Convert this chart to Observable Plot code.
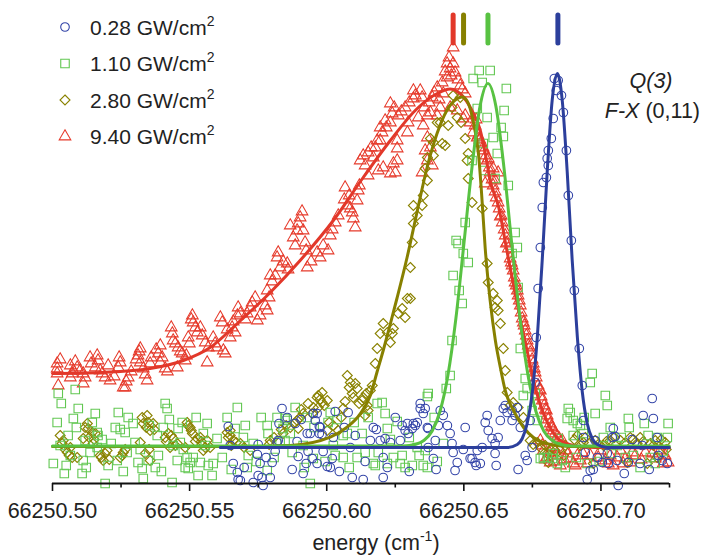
<!DOCTYPE html>
<html>
<head>
<meta charset="utf-8">
<script src="https://cdn.jsdelivr.net/npm/d3@7"></script>
<script src="https://cdn.jsdelivr.net/npm/@observablehq/plot@0.6"></script>
<style>
  html, body { margin: 0; padding: 0; background: #fff; }
  #chart { position: relative; width: 703px; height: 557px; }
</style>
</head>
<body>
<div id="chart"></div>
<script>
// energy = 66250 + first value (cm^-1); second value = signal (arb. units)
const E0 = 66250;
const legendLabels = ["0.28 GW/cm", "1.10 GW/cm", "2.80 GW/cm", "9.40 GW/cm"];
const seriesColors = ["#3445a8", "#62c752", "#8a8200", "#e63a2b"];
const lineColors = ["#2c3f9c", "#58c242", "#878000", "#e2382a"];
const majorTicks = [0.50, 0.55, 0.60, 0.65, 0.70];
const minorTicks = [0.525, 0.575, 0.625, 0.675, 0.725];
const xDomain = [0.50, 0.725];
const yDomain = [-36, 447];
const peakMarkers = [0.6461, 0.6499, 0.6588, 0.6843]; // red, olive, green, blue
const markerColors = ["#e2382a", "#878000", "#58c242", "#2c3f9c"];
const markerSpan = [404, 432];

const blueCircles = [
[0.5641,21],[0.5648,2],[0.5659,-16],[0.5674,-25],[0.5677,-32],[0.5750,3],[0.5747,-7],[0.5757,-16],[0.5764,-30],[0.5794,-30],
[0.5801,-15],[0.5812,-4],[0.5823,7],[0.5837,39],[0.5826,24],[0.5885,24],[0.5892,6],[0.5896,-9],[0.5925,-16],[0.5932,-4],
[0.5914,-26],[0.5951,34],[0.5965,34],[0.5958,27],[0.5973,21],[0.5973,14],[0.5983,13],[0.5987,-4],[0.6002,-19],[0.6020,-11],
[0.6013,-20],[0.6031,36],[0.6024,10],[0.6078,35],[0.6086,0],[0.6093,-30],[0.6133,-32],[0.6140,-14],[0.6159,7],[0.6170,20],
[0.6181,18],[0.5940,14],[0.6195,7],[0.6232,5],[0.6268,7],[0.6275,22],[0.6286,17],[0.6294,24],[0.6312,19],[0.6323,22],
[0.6330,25],[0.6297,14],[0.6341,44],[0.6341,39],[0.6359,39],[0.6367,20],[0.6370,0],[0.6389,-11],[0.6396,7],[0.6414,37],
[0.6425,32],[0.6440,22],[0.6450,14],[0.6457,4],[0.6461,-5],[0.6530,-11],[0.6541,-15],[0.6549,-3],[0.5947,-11],[0.5965,-16],
[0.6206,-10],[0.6352,34],[0.6407,22],[0.6370,19],[0.6316,24],[0.6213,9],[0.6476,-15],[0.6523,-11],[0.6560,-16],[0.6567,0],
[0.6585,32],[0.6578,25],[0.6589,17],[0.6603,9],[0.6614,4],[0.6614,-6],[0.6633,27],[0.6651,42],[0.6658,35],[0.6676,37],
[0.6687,32],[0.6695,40],[0.6676,27],[0.6706,20],[0.6724,-8],[0.6731,-13],[0.6644,39],[0.6742,27],[0.6625,10],[0.6545,-18],
[0.6749,0],[0.6760,65],[0.6764,110],[0.6771,159],[0.6779,200],[0.6786,240],[0.6790,265],[0.6801,270],[0.6808,282],[0.6804,289],
[0.6808,297],[0.6819,309],[0.6826,329],[0.6830,369],[0.6837,357],[0.6844,367],[0.6856,352],[0.6863,335],[0.6874,297],[0.6881,252],
[0.6892,207],[0.6903,157],[0.6921,99],[0.6932,62],[0.6936,27],[0.6936,10],[0.6943,-5],[0.6987,-10],[0.7005,-15],[0.7045,19],
[0.7041,10],[0.7052,11],[0.7023,-6],[0.7027,-16],[0.7059,-13],[0.7100,-15],[0.7143,-16],[0.7151,2],[0.7154,32],[0.7191,29],
[0.7187,49],[0.7205,10],[0.7209,-8],[0.7223,-13],[0.7242,-16],[0.6206,-30],[0.6468,-23],[0.6950,-32],[0.7063,-38],[0.5732,-35],
[0.5750,-28],[0.5768,-38],[0.5819,5],[0.5929,14],[0.5976,20],[0.5685,-33],[0.6979,7],[0.6961,-23],
[0.5699,-20],[0.5779,-10],[0.5856,30],[0.5874,-22],[0.5907,28],[0.6046,-24],[0.6064,20],[0.6104,12],[0.6221,-20],[0.6250,30],
[0.6301,-24],[0.6399,-22],[0.6498,-2],[0.6505,20],[0.6618,-18],[0.6698,-22],[0.6972,-22],[0.7085,-26],[0.7114,8],[0.7176,-22]
];

const greenSquares = [
[0.5021,54],[0.5083,58],[0.5032,44],[0.5094,39],[0.5156,34],[0.5076,29],[0.5017,25],[0.5028,2],[0.5065,-8],[0.5050,-18],
[0.5043,-26],[0.5112,-13],[0.5108,-26],[0.5137,-5],[0.5166,12],[0.5163,0],[0.5203,-18],[0.5236,-13],[0.5240,35],[0.5229,20],
[0.5247,18],[0.5276,30],[0.5294,24],[0.5312,-15],[0.5327,-21],[0.5331,-31],[0.5349,-13],[0.5382,12],[0.5404,20],[0.5386,-8],
[0.5411,44],[0.5418,39],[0.5440,2],[0.5455,-13],[0.5458,19],[0.5473,25],[0.5491,-10],[0.5502,-15],[0.5513,-10],[0.5495,-21],
[0.5531,-28],[0.5564,24],[0.5550,14],[0.5586,-16],[0.5582,-28],[0.5600,9],[0.5637,30],[0.5666,19],[0.5696,10],[0.5714,-8],
[0.5710,-20],[0.5732,4],[0.5783,22],[0.5786,14],[0.5819,30],[0.5848,29],[0.5841,19],[0.5867,14],[0.5874,-5],[0.5914,2],
[0.5929,30],[0.6005,25],[0.6024,2],[0.6060,12],[0.6060,-10],[0.6129,14],[0.6140,-5],[0.6170,-16],[0.6184,44],[0.5003,-16],
[0.5119,7],[0.5163,15],[0.5192,-36],[0.5265,15],[0.5272,-5],[0.5375,-20],[0.5466,5],[0.5484,-20],[0.5539,-15],[0.5568,-18],
[0.5436,-35],[0.5783,-23],[0.5940,-36],[0.6202,45],[0.6213,34],[0.6370,54],[0.6221,19],[0.6075,14],[0.6013,35],[0.5856,27],
[0.5848,7],[0.5951,-11],[0.6031,-8],[0.6111,-10],[0.6177,-18],[0.6243,-10],[0.6330,0],[0.6312,-18],[0.6367,-20],[0.6425,4],
[0.6436,59],[0.6450,72],[0.6457,107],[0.6367,51],[0.6232,8],[0.6275,-8],[0.6268,-16],[0.6352,-18],[0.6359,-3],[0.6221,-16],
[0.6483,157],[0.6494,144],[0.6461,172],[0.6498,194],[0.6479,204],[0.6472,207],[0.6516,185],[0.6505,225],[0.6534,369],[0.6556,377],
[0.6596,377],[0.6567,365],[0.6549,339],[0.6585,330],[0.6655,359],[0.6647,337],[0.6636,320],[0.6644,311],[0.6607,310],[0.6622,294],
[0.6571,304],[0.6530,287],[0.6574,277],[0.6614,269],[0.6662,262],[0.6687,215],[0.6695,200],[0.6676,194],[0.6698,160],[0.6706,99],
[0.6724,69],[0.6731,59],[0.6717,52],[0.6749,37],[0.6768,27],[0.6804,-10],[0.6779,-11],[0.6826,-6],[0.6841,-16],[0.6760,54],
[0.6968,74],[0.6961,65],[0.7016,52],[0.7023,42],[0.6979,34],[0.6881,39],[0.6888,35],[0.6877,29],[0.6899,27],[0.6914,24],
[0.6925,22],[0.6899,12],[0.6936,14],[0.7009,10],[0.7034,20],[0.7100,29],[0.7103,20],[0.7172,12],[0.7205,10],[0.7242,10],
[0.6844,9],[0.6823,-11],[0.6859,-13],[0.6790,-10],[0.6950,-16],[0.7059,2],[0.7089,-10],[0.7180,-10],[0.7198,-16],[0.7143,-20],
[0.5057,12],[0.5087,20],[0.5123,-20],[0.5145,25],[0.5181,8],[0.5214,4],[0.5258,-24],[0.5301,5],[0.5320,-2],[0.5353,22],
[0.5397,-24],[0.5426,28],[0.5477,-2],[0.5524,30],[0.5557,2],[0.5619,-10],[0.5652,-22],[0.5674,40],[0.5703,22],[0.5743,-14],
[0.5761,30],[0.5808,-10],[0.5830,6],[0.5885,40],[0.5918,-20],[0.5954,20],[0.5994,-14],[0.6038,28],[0.6082,-20],[0.6100,25],
[0.6151,30],[0.6188,-5],[0.6257,26],[0.6286,-20],[0.6301,10],[0.6337,-8],[0.6392,30],[0.6403,-14],[0.6870,-20],[0.6910,-10],
[0.6939,30],[0.6994,-14],[0.7038,-6],[0.7074,10],[0.7118,-8],[0.7158,24],[0.7227,-4],[0.7245,24]
];

const oliveDiamonds = [
[0.5028,12],[0.5065,0],[0.5054,-5],[0.5072,-10],[0.5127,24],[0.5130,19],[0.5145,15],[0.5112,9],[0.5174,-8],[0.5185,-13],
[0.5199,-3],[0.5247,-10],[0.5258,-5],[0.5320,5],[0.5345,32],[0.5349,25],[0.5367,24],[0.5356,17],[0.5338,-6],[0.5356,-13],
[0.5411,10],[0.5422,14],[0.5440,9],[0.5455,4],[0.5429,0],[0.5491,25],[0.5502,20],[0.5510,14],[0.5528,9],[0.5484,0],
[0.5550,-3],[0.5575,0],[0.5637,15],[0.5648,12],[0.5659,7],[0.5685,4],[0.5721,-3],[0.5794,7],[0.5841,14],[0.5867,20],
[0.5892,27],[0.5914,34],[0.5951,40],[0.5969,52],[0.5983,55],[0.6002,47],[0.6002,17],[0.6024,22],[0.6060,39],[0.6093,54],
[0.6104,64],[0.6133,50],[0.6151,37],[0.6159,57],[0.5039,7],[0.5090,-10],[0.5148,4],[0.5156,14],[0.5331,24],[0.5539,10],
[0.5564,7],[0.5648,17],[0.5903,30],[0.5965,50],[0.5983,45],[0.5969,40],[0.6075,72],[0.6086,65],[0.6111,59],[0.6129,47],
[0.6148,42],[0.6140,32],[0.6177,84],[0.6184,99],[0.6195,114],[0.6221,115],[0.6239,114],[0.6042,17],[0.5896,19],[0.6206,124],
[0.6243,119],[0.6232,105],[0.6261,134],[0.6275,139],[0.6286,130],[0.6294,149],[0.6305,180],[0.6305,149],[0.6312,205],[0.6316,224],
[0.6330,232],[0.6316,242],[0.6348,242],[0.6352,252],[0.6359,279],[0.6367,290],[0.6378,309],[0.6389,305],[0.6403,325],[0.6421,304],
[0.6432,302],[0.6443,322],[0.6457,340],[0.6476,330],[0.6490,325],[0.6505,309],[0.6512,287],[0.6516,269],[0.6414,325],[0.6461,352],
[0.6487,350],[0.6516,294],[0.6367,267],[0.6389,292],[0.6530,245],[0.6567,239],[0.6585,184],[0.6589,165],[0.6607,154],[0.6622,147],
[0.6614,140],[0.6625,137],[0.6633,124],[0.6644,99],[0.6651,77],[0.6658,55],[0.6680,45],[0.6698,40],[0.6717,30],[0.6669,42],
[0.6742,7],[0.6768,5],[0.6804,-6],[0.6808,-15],[0.6914,12],[0.6936,5],[0.7009,2],[0.7034,7],[0.7071,7],[0.7107,10],
[0.7132,4],[0.7180,4],[0.7205,-10],[0.7234,5],[0.6972,-16],[0.7096,-15],[0.7169,-16],[0.6797,2],[0.6833,-3],[0.6863,-8],
[0.6943,10],[0.6979,7],[0.7143,10],[0.7198,7],
[0.5035,4],[0.5046,-2],[0.5061,-8],[0.5119,20],[0.5134,10],[0.5152,8],[0.5178,-10],[0.5192,-6],[0.5207,-12],[0.5254,-8],
[0.5265,-2],[0.5327,30],[0.5342,20],[0.5352,-2],[0.5371,18],[0.5415,6],[0.5433,12],[0.5448,2],[0.5495,22],[0.5506,17],
[0.5521,6],[0.5543,6],[0.5557,0],[0.5641,10],[0.5652,2],[0.5670,5],[0.5699,0],[0.5790,3],[0.5808,10],[0.5834,18],
[0.5852,22],[0.5881,24],[0.5907,38],[0.5932,44],[0.5947,34],[0.5976,48],[0.5991,42],[0.6009,25],[0.6053,30],[0.6067,46],
[0.6082,60],[0.6097,50],[0.6118,44],[0.6144,54],[0.6166,62],[0.6753,3],[0.6779,0],[0.6815,-2],[0.6870,2],[0.6903,8],
[0.6925,2],[0.6958,4],[0.6990,3],[0.7020,6],[0.7049,10],[0.7085,4],[0.7118,8],[0.7154,6],[0.7191,2],[0.7220,8],[0.7238,-2]
];

const redTriangles = [
[0.5017,84],[0.5017,74],[0.5065,82],[0.5076,77],[0.5090,80],[0.5065,70],[0.5112,74],[0.5112,64],[0.5137,90],[0.5166,87],
[0.5156,80],[0.5174,77],[0.5192,70],[0.5210,67],[0.5247,85],[0.5240,80],[0.5265,60],[0.5276,70],[0.5320,99],[0.5312,92],
[0.5320,85],[0.5331,79],[0.5345,67],[0.5356,84],[0.5393,102],[0.5386,94],[0.5393,85],[0.5411,79],[0.5437,114],[0.5440,107],
[0.5458,100],[0.5473,94],[0.5484,87],[0.5495,110],[0.5510,132],[0.5513,125],[0.5539,120],[0.5528,115],[0.5557,105],[0.5586,110],
[0.5619,125],[0.5600,100],[0.5623,97],[0.5655,120],[0.5648,110],[0.5666,115],[0.5685,134],[0.5710,134],[0.5728,145],[0.5747,127],
[0.5783,137],[0.5794,172],[0.5021,62],[0.5258,60],[0.5455,80],[0.5564,85],[0.5630,94],[0.5674,132],
[0.5783,157],[0.5819,190],[0.5830,180],[0.5856,184],[0.5812,172],[0.5867,222],[0.5903,230],[0.5892,217],[0.5914,217],[0.5885,202],
[0.5925,197],[0.5929,180],[0.5976,190],[0.6005,197],[0.6013,212],[0.6031,225],[0.6075,242],[0.6086,239],[0.6097,229],[0.6104,220],
[0.6067,260],[0.6111,247],[0.6115,257],[0.6122,287],[0.6140,282],[0.6151,295],[0.6170,290],[0.6188,277],[0.6151,272],[0.6177,300],
[0.6202,315],[0.6184,307],[0.6213,327],[0.6232,344],[0.6239,334],[0.6232,325],[0.6257,307],[0.6257,287],[0.6257,299],[0.6250,275],
[0.6261,332],[0.6286,340],[0.6297,325],[0.6294,315],[0.6316,357],[0.6316,349],[0.6341,357],[0.6348,350],[0.6367,332],[0.6352,322],
[0.6378,335],[0.6385,350],[0.6403,360],[0.6421,365],[0.6439,384],[0.6450,379],[0.6461,384],[0.6468,375],[0.6439,370],[0.6487,362],
[0.6505,354],[0.6498,329],[0.6523,325],[0.6367,310],[0.6359,297],[0.6378,300],[0.6403,332],[0.6414,340],[0.6425,354],[0.6461,400],
[0.6367,287],[0.6385,282],[0.6348,275],[0.6450,340],[0.6476,337],[0.6505,332],[0.6534,315],[0.6549,310],[0.6589,289],[0.6607,279],
[0.6625,275],[0.6614,267],[0.6578,264],[0.6232,274],[0.6243,284],[0.6206,280],[0.6195,307],
[0.6541,322],[0.6552,312],[0.6563,305],[0.6574,297],[0.6585,287],[0.6596,275],[0.6607,262],[0.6618,250],[0.6629,239],[0.6640,225],
[0.6651,212],[0.6662,199],[0.6669,189],[0.6680,177],[0.6687,165],[0.6698,152],[0.6706,142],[0.6713,129],[0.6724,117],[0.6731,107],
[0.6742,95],[0.6753,84],[0.6760,75],[0.6771,62],[0.6782,51],[0.6793,42],[0.6804,32],[0.6815,24],[0.6826,17],[0.6841,11],
[0.6859,7],[0.6633,231],[0.6655,204],[0.6676,182],[0.6695,157],[0.6717,125],[0.6735,102],[0.6757,79],[0.6779,57],[0.6801,37],
[0.6823,20],[0.6779,7],[0.6790,-3],[0.6804,-10],[0.6815,-15],[0.6826,0],[0.6841,-8],[0.6852,-18],[0.6870,-3],[0.6888,-11],
[0.6899,-16],[0.6914,-8],[0.6925,-13],[0.6961,-8],[0.6998,-3],[0.7016,-13],[0.7034,-8],[0.7045,-18],[0.7071,-3],[0.7089,-11],
[0.7107,-15],[0.7125,-8],[0.7162,-5],[0.7198,-11],[0.7216,-3],[0.7234,-8],[0.7245,-15],
[0.5017,79],[0.5028,88],[0.5072,74],[0.5083,86],[0.5101,77],[0.5119,70],[0.5141,84],[0.5163,92],[0.5181,74],[0.5203,82],
[0.5225,71],[0.5243,90],[0.5269,66],[0.5287,76],[0.5305,88],[0.5316,96],[0.5338,73],[0.5360,90],[0.5378,98],[0.5400,90],
[0.5419,76],[0.5433,120],[0.5448,104],[0.5466,96],[0.5488,92],[0.5499,104],[0.5506,128],[0.5521,120],[0.5546,112],[0.5568,100],
[0.5593,104],[0.5612,130],[0.5637,118],[0.5659,126],[0.5677,140],[0.5703,128],[0.5721,140],[0.5739,150],[0.5757,132],[0.5776,142],
[0.5801,166],[0.5790,150],[0.5823,195],[0.5841,186],[0.5859,178],[0.5878,210],[0.5896,224],[0.5910,236],[0.5921,205],[0.5943,186],
[0.5965,195],[0.5987,202],[0.6020,218],[0.6042,232],[0.6064,248],[0.6082,252],[0.6093,235],[0.6119,262],[0.6133,292],[0.6162,300],
[0.6195,320],[0.6217,320],[0.6246,340],[0.6272,336],[0.6301,345],[0.6323,352],[0.6334,330],[0.6356,340],[0.6374,345],[0.6392,355],
[0.6410,348],[0.6432,376],[0.6446,390],[0.6454,372],[0.6479,368],[0.6494,358],[0.6545,328],[0.6558,308],[0.6570,300],[0.6581,292],
[0.6593,280],[0.6603,268],[0.6614,256],[0.6625,245],[0.6636,232],[0.6647,218],[0.6658,205],[0.6673,185],[0.6684,170],[0.6691,162],
[0.6702,147],[0.6709,135],[0.6720,122],[0.6728,112],[0.6739,100],[0.6749,88],[0.6764,70],[0.6775,58],[0.6786,47],[0.6797,38],
[0.6808,28],[0.6819,21],[0.6833,14],[0.6848,9],[0.6786,2],[0.6797,-12],[0.6812,-5],[0.6830,-14],[0.6848,-2],[0.6866,-12],
[0.6881,-6],[0.6906,-18],[0.6932,-5],[0.6950,-16],[0.6990,-10],[0.7027,-16],[0.7059,-10],[0.7081,-16],[0.7114,-5],[0.7147,-12],
[0.7187,-6],[0.7227,-16]
];

// fitted profiles
const blueFit = [
[0.5612,0],[0.5903,0],[0.6268,0],[0.6560,0],[0.6658,0],[0.6695,3],[0.6713,9],[0.6731,24],[0.6750,55.5],[0.6768,110.4],
[0.6786,188],[0.6804,275.6],[0.6822,346.6],[0.6841,374],[0.6859,346.6],[0.6877,275.6],[0.6895,188],[0.6914,110.4],[0.6932,55.5],
[0.6950,24],[0.6968,9],[0.6987,3],[0.7023,0],[0.7249,0]
];
const greenFit = [
[0.5000,1.5],[0.5539,1.5],[0.5903,1.5],[0.6195,1.5],[0.6278,1.5],[0.6325,3.3],[0.6354,7],[0.6384,16.3],[0.6413,36],[0.6442,72.3],
[0.6471,129],[0.6500,203],[0.6530,280.7],[0.6559,341.1],[0.6588,364],[0.6617,341.1],[0.6646,280.7],[0.6675,203],[0.6705,129],
[0.6734,72.3],[0.6763,36],[0.6792,16.3],[0.6822,7],[0.6851,3.3],[0.6898,1.5],[0.7249,1.5]
];
const oliveFit = [
[0.5000,1],[0.5356,1],[0.5721,1],[0.5867,2],[0.6013,10.3],[0.6074,20.3],[0.6122,33.7],[0.6159,52],[0.6183,75],[0.6207,98],
[0.6232,123.7],[0.6256,149],[0.6293,190],[0.6329,235],[0.6365,279],[0.6402,313.7],[0.6438,337],[0.6475,348.7],[0.6493,350.5],
[0.6511,347],[0.6527,335],[0.6542,315],[0.6554,292],[0.6564,257],[0.6578,199],[0.6596,147],[0.6615,107],[0.6633,80.3],
[0.6651,57],[0.6681,37],[0.6718,20],[0.6754,10],[0.6803,3.7],[0.6888,1],[0.7249,0.5]
];
const redFit = [
[0.5000,74],[0.5174,75],[0.5356,79],[0.5477,87],[0.5575,100],[0.5674,124],[0.5794,155],[0.5903,187],[0.6024,227],[0.6133,270],
[0.6232,307],[0.6330,339],[0.6403,354],[0.6450,358.5],[0.6499,350.3],[0.6535,334],[0.6560,317],[0.6578,294],[0.6596,267],
[0.6627,240.3],[0.6657,197],[0.6687,153.7],[0.6712,120.3],[0.6736,90.3],[0.6760,60.3],[0.6791,33.7],[0.6821,17],[0.6852,7],
[0.6925,1],[0.6998,0],[0.7249,-0.5]
];

const X = d => E0 + d[0];
const Y = d => d[1];
const font = "'Liberation Sans', Arial, Helvetica, sans-serif";
const symR = [4.3, 4.8, 4.5, 4.3]; // circle, square, diamond, triangle

const markerData = peakMarkers.map((e, i) => ({e, c: markerColors[i]}));

const chart = Plot.plot({
  width: 703,
  height: 557,
  marginLeft: 52,
  marginRight: 34,
  marginTop: 0,
  marginBottom: 74,
  style: {fontFamily: font, fontSize: "21.5px", color: "#222", background: "white"},
  x: {domain: xDomain.map(v => E0 + v), axis: null},
  y: {domain: yDomain, axis: null},
  marks: [
    Plot.dot(redTriangles, {x: X, y: Y, symbol: "triangle", r: symR[3], stroke: seriesColors[3], strokeWidth: 1.1, fill: "none"}),
    Plot.dot(oliveDiamonds, {x: X, y: Y, symbol: "diamond2", r: symR[2], stroke: seriesColors[2], strokeWidth: 1.1, fill: "none"}),
    Plot.dot(greenSquares, {x: X, y: Y, symbol: "square", r: symR[1], stroke: seriesColors[1], strokeWidth: 1.1, fill: "none"}),
    Plot.dot(blueCircles, {x: X, y: Y, symbol: "circle", r: symR[0], stroke: seriesColors[0], strokeWidth: 1.1, fill: "none"}),
    Plot.line(redFit, {x: X, y: Y, stroke: lineColors[3], strokeWidth: 3, curve: "monotone-x"}),
    Plot.line(oliveFit, {x: X, y: Y, stroke: lineColors[2], strokeWidth: 3, curve: "monotone-x"}),
    Plot.line(greenFit, {x: X, y: Y, stroke: lineColors[1], strokeWidth: 3, curve: "monotone-x"}),
    Plot.line(blueFit, {x: X, y: Y, stroke: lineColors[0], strokeWidth: 3, curve: "monotone-x"}),
    Plot.ruleX(markerData, {x: d => E0 + d.e, y1: markerSpan[0], y2: markerSpan[1], stroke: d => d.c, strokeWidth: 5, strokeLinecap: "round"}),
    Plot.ruleY([yDomain[0]], {stroke: "#111", strokeWidth: 1.8}),
    Plot.axisX({ticks: majorTicks.map(v => E0 + v), tickFormat: d => (d).toFixed(2), tickSize: 8, tickPadding: 11,
      stroke: "#111", strokeWidth: 1.6, fontSize: 21.5, fill: "#222", anchor: "bottom"}),
    Plot.axisX({ticks: minorTicks.map(v => E0 + v), tickFormat: () => "", tickSize: 4.5, stroke: "#111", strokeWidth: 1.6, anchor: "bottom"})
  ]
});

document.getElementById("chart").appendChild(chart);

const svg = d3.select(chart);
const txt = "#222";

// axis title
const xt = svg.append("text")
  .attr("x", 376).attr("y", 550)
  .attr("text-anchor", "middle")
  .attr("font-family", font).attr("font-size", 21.5).attr("fill", txt);
xt.append("tspan").text("energy (cm");
xt.append("tspan").attr("font-size", 14).attr("dy", -9).text("-1");
xt.append("tspan").attr("dy", 9).text(")");

// legend
const legendSymbols = [d3.symbolCircle, d3.symbolSquare, d3.symbolDiamond2, d3.symbolTriangle];
const lg = svg.append("g").attr("text-anchor", "start");
legendLabels.forEach((lab, i) => {
  const cy = 27 + i * 36.5;
  lg.append("path")
    .attr("transform", `translate(65,${cy})`)
    .attr("d", d3.symbol(legendSymbols[i], Math.PI * symR[i] * symR[i])())
    .attr("fill", "none").attr("stroke", seriesColors[i]).attr("stroke-width", 1.1);
  const t = lg.append("text")
    .attr("x", 90).attr("y", cy + 7.8)
    .attr("text-anchor", "start")
    .attr("font-family", font).attr("font-size", 21).attr("fill", txt);
  t.append("tspan").text(lab);
  t.append("tspan").attr("font-size", 14).attr("dy", -9).text("2");
});

// annotation
svg.append("text")
  .attr("x", 651).attr("y", 88).attr("text-anchor", "middle")
  .attr("font-family", font).attr("font-size", 21.5).attr("fill", txt)
  .attr("font-style", "italic").text("Q(3)");
const a2 = svg.append("text")
  .attr("x", 700).attr("y", 118).attr("text-anchor", "end")
  .attr("font-family", font).attr("font-size", 21.5).attr("fill", txt);
a2.append("tspan").attr("font-style", "italic").text("F-X");
a2.append("tspan").text(" (0,11)");
</script>
</body>
</html>
